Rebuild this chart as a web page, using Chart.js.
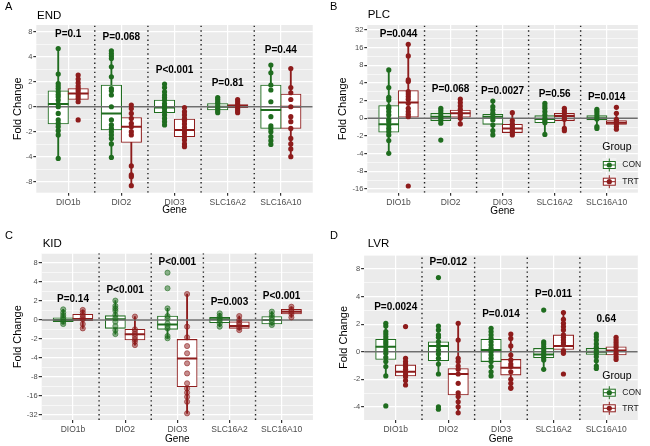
<!DOCTYPE html>
<html>
<head>
<meta charset="utf-8">
<script src="https://cdn.jsdelivr.net/npm/chart.js@4.4.0/dist/chart.umd.min.js"></script>
<style>
  html, body { margin: 0; padding: 0; background: #fff; }
  #wrap { position: relative; width: 650px; height: 446px; }
  canvas { position: absolute; }
</style>
</head>
<body>
<div id="wrap">
  <canvas id="pA" width="325" height="220" style="left:0;top:0"></canvas>
  <canvas id="pB" width="325" height="220" style="left:325px;top:0"></canvas>
  <canvas id="pC" width="325" height="226" style="left:0;top:220px"></canvas>
  <canvas id="pD" width="325" height="226" style="left:325px;top:220px"></canvas>
</div>
<script>
// values are in axis units (log2 of fold change), tick labels show the fold change
const genes = ['DIO1b', 'DIO2', 'DIO3', 'SLC16A2', 'SLC16A10'];
const groupNames = ['CON', 'TRT'];
const foldTicks = [-5, -4, -3, -2, -1, 0, 1, 2, 3, 4, 5];
const foldLabels = ['-32', '-16', '-8', '-4', '-2', '0', '2', '4', '8', '16', '32'];

// END
const endCon = [
  [2.33, 1.31, 0.93, 0.83, 0.73, 0.6, 0.49, 0.4, 0.27, 0.11, 0, -0.27, -0.53, -0.67, -0.8, -0.96, -1.13, -2.07],
  [2.24, 2.13, 2.03, 1.93, 1.6, 1.2, 0.73, 0.64, 0.47, 0, -0.53, -0.73, -0.87, -1.0, -1.13, -1.27, -1.49, -2.03],
  [0.91, 0.77, 0.6, 0.47, 0.37, 0.27, 0.13, 0.03, -0.07, -0.2, -0.33, -0.47, -0.6, -0.73],
  [0.37, 0.29, 0.2, 0.13, 0.03, -0.07, -0.16, -0.24],
  [1.67, 1.36, 0.87, 0.67, 0.2, -0.4, -0.77, -0.87, -1.0, -1.2, -1.36, -1.51]
];
const endTrt = [
  [1.27, 1.11, 0.96, 0.83, 0.73, 0.64, 0.53, 0.43, 0.33, 0.2, -0.53],
  [0.07, -0.07, -0.27, -0.47, -0.67, -0.8, -1.0, -1.13, -2.37, -2.73, -2.8, -3.16],
  [-0.03, -0.2, -0.33, -0.47, -0.56, -0.69, -0.83, -0.96, -1.07, -1.2, -1.33, -1.49, -1.6],
  [0.29, 0.2, 0.11, 0.03, -0.07, -0.16, -0.24],
  [1.53, 0.77, 0.56, 0.29, 0, -0.4, -0.6, -0.87, -1.27, -1.49, -1.69, -2.0]
];
// [lower whisker, q1, median, q3, upper whisker]
const endConBox = [[-2.07, -0.69, 0.11, 0.64, 2.33], [-2.03, -0.93, -0.27, 0.87, 2.24], [-0.73, -0.24, -0.03, 0.27, 0.91], [-0.24, -0.13, 0, 0.13, 0.37], [-1.51, -0.87, -0.13, 0.87, 1.67]];
const endTrtBox = [[0.2, 0.29, 0.53, 0.73, 1.27], [-3.16, -1.43, -0.8, -0.43, 0.07], [-1.6, -1.2, -0.93, -0.49, -0.03], [-0.24, -0.04, 0.03, 0.09, 0.29], [-2.0, -0.87, 0, 0.51, 1.53]];
const endP = ['P=0.1', 'P=0.068', 'P<0.001', 'P=0.81', 'P=0.44'];
const endPY = [2.89, 2.77, 1.47, 0.93, 2.24];

// PLC
const plcCon = [
  [2.74, 1.74, 1.19, 1.04, 0.66, 0.57, 0.38, 0.19, -0.06, -0.19, -0.38, -0.57, -0.75, -0.94, -1.26, -1.98],
  [0.57, 0.43, 0.28, 0.13, 0, -0.13, -0.28, -1.23],
  [0.98, 0.66, 0.47, 0.28, 0.09, -0.09, -0.38, -0.7, -0.94],
  [0.85, 0.7, 0.57, 0.38, 0.19, 0, -0.13, -0.25, -0.91],
  [0.51, 0.38, 0.25, 0.09, -0.04, -0.47, -0.57]
];
const plcTrt = [
  [4.19, 3.53, 2.17, 2.08, 1.51, 1.38, 1.23, 1.08, 0.85, 0.57, 0.38, 0.23, 0.09, -3.83],
  [1.08, 0.89, 0.7, 0.51, 0.32, 0.19, 0, -0.32],
  [0.32, -0.13, -0.32, -0.43, -0.57, -0.7, -0.81, -0.94],
  [0.57, 0.42, 0.28, 0.09, -0.06, -0.57, -0.7],
  [0.62, 0.28, -0.06, -0.19, -0.32, -0.47, -0.62]
];
const plcConBox = [[-1.98, -0.79, -0.34, 0.72, 2.74], [-0.28, -0.13, 0.09, 0.28, 0.57], [-0.94, -0.34, 0.09, 0.23, 0.98], [-0.91, -0.25, -0.04, 0.15, 0.85], [-0.57, -0.09, 0, 0.15, 0.51]];
const plcTrtBox = [[0.06, 0.06, 0.89, 1.57, 4.19], [-0.32, 0.06, 0.28, 0.47, 1.08], [-0.94, -0.81, -0.57, -0.34, 0.32], [-0.7, -0.13, 0.13, 0.28, 0.57], [-0.62, -0.34, -0.25, -0.13, 0.28]];
const plcP = ['P=0.044', 'P=0.068', 'P=0.0027', 'P=0.56', 'P=0.014'];
const plcPY = [4.77, 1.64, 1.51, 1.38, 1.17];

// KID
const kidCon = [
  [0.56, 0.39, 0.26, 0.14, 0.04, -0.09, -0.21],
  [1.02, 0.74, 0.61, 0.49, 0.26, 0.09, -0.09, -0.32, -0.53, -0.74],
  [2.49, 1.67, 0.61, 0.21, 0.09, -0.18, -0.32, -0.44, -0.84, -0.96],
  [0.35, 0.21, 0.09, -0.04, -0.18, -0.35],
  [0.44, 0.26, 0.14, 0, -0.14, -0.26]
];
const kidTrt = [
  [0.53, 0.39, 0.26, 0.14, 0.04, -0.21, -0.44],
  [0.18, -0.49, -0.61, -0.74, -0.88, -1.02, -1.14, -1.32],
  [1.37, -0.35, -0.91, -1.37, -1.75, -2.28, -2.81, -3.33, -3.6, -3.82, -4.04, -4.3, -4.91],
  [0.21, 0, -0.14, -0.26, -0.39, -0.53],
  [0.7, 0.56, 0.44, 0.32, 0.14]
];
const kidConBox = [[-0.21, -0.09, 0, 0.12, 0.56], [-0.74, -0.44, 0.04, 0.23, 1.02], [-0.96, -0.49, -0.23, 0.21, 0.61], [-0.35, -0.14, 0.04, 0.14, 0.35], [-0.26, -0.21, 0, 0.18, 0.44]];
const kidTrtBox = [[-0.44, -0.04, 0.05, 0.3, 0.53], [-1.32, -1.05, -0.75, -0.49, 0.18], [-4.91, -3.51, -2.02, -1.02, 1.37], [-0.53, -0.44, -0.32, -0.09, 0.21], [0.14, 0.32, 0.44, 0.56, 0.7]];
const kidP = ['P=0.14', 'P<0.001', 'P<0.001', 'P=0.003', 'P<0.001'];
const kidPY = [1.09, 1.58, 3.02, 0.91, 1.23];

// LVR
const lvrCon = [
  [1.03, 0.93, 0.73, 0.64, 0.54, 0.45, 0.36, 0.28, 0.18, 0.06, -0.06, -0.21, -0.36, -0.54, -0.88, -1.97],
  [2.69, 0.93, 0.79, 0.61, 0.52, 0.36, 0.21, 0.06, -0.08, -0.24, -0.45, -0.81, -2.0, -2.09],
  [0.85, 0.73, 0.61, 0.48, 0.36, 0.24, 0.12, 0, -0.12, -0.24, -0.36, -0.54, -0.73, -0.88],
  [1.51, 0.36, 0.28, 0.18, 0.06, -0.04, -0.12, -0.21, -0.3, -0.64],
  [0.64, 0.54, 0.42, 0.28, 0.16, 0.04, -0.06, -0.18, -0.33, -0.52, -0.61]
];
const lvrTrt = [
  [0.91, -0.24, -0.36, -0.45, -0.54, -0.64, -0.73, -0.81, -0.91, -1.05, -1.21],
  [1.03, 0.42, -0.24, -0.36, -0.52, -0.64, -0.81, -1.15, -1.49, -1.63, -1.82, -2.0, -2.22],
  [0.64, 0.48, 0.21, -0.12, -0.3, -0.45, -0.54, -0.73, -1.0, -1.15, -1.3, -1.33],
  [1.42, 1.17, 1.03, 0.91, 0.79, 0.61, 0.52, 0.42, 0.33, 0.24, 0.04, -0.06, -0.81],
  [0.52, 0.42, 0.33, 0.24, 0.16, 0.04, -0.06, -0.18, -0.28]
];
const lvrConBox = [[-0.88, -0.28, 0.18, 0.45, 1.03], [-0.81, -0.33, 0.21, 0.36, 0.93], [-0.88, -0.36, 0.06, 0.45, 0.85], [-0.64, -0.22, -0.1, 0.12, 0.36], [-0.61, -0.1, 0, 0.12, 0.64]];
const lvrTrtBox = [[-1.21, -0.88, -0.73, -0.48, -0.24], [-2.22, -1.57, -0.81, -0.61, 1.03], [-1.33, -0.85, -0.58, -0.28, 0.64], [-0.06, 0.08, 0.21, 0.61, 1.42], [-0.28, -0.12, 0.04, 0.18, 0.52]];
const lvrP = ['P=0.0024', 'P=0.012', 'P=0.014', 'P=0.011', '0.64'];
const lvrPY = [1.6, 3.24, 1.36, 2.09, 1.19];

const GREEN = '#1f6d1f';
const RED = '#8e1c1c';
const FONT = '"Liberation Sans", Arial, sans-serif';

const panels = [
  { id: 'pA', letter: 'A', title: 'END', con: endCon, trt: endTrt, conBox: endConBox, trtBox: endTrtBox,
    p: endP, pY: endPY, yMin: -3.44, yMax: 3.27, area: { l: 36.3, r: 321.2, t: 25, b: 192.7 },
    letterY: 7, titleX: 37, titleY: 16, yTitleX: 18, xTitleY: 210.7, legend: null, alpha: false },
  { id: 'pB', letter: 'B', title: 'PLC', con: plcCon, trt: plcTrt, conBox: plcConBox, trtBox: plcTrtBox,
    p: plcP, pY: plcPY, yMin: -4.21, yMax: 5.28, area: { l: 42.3, r: 323.2, t: 25, b: 192.7 },
    letterY: 7, titleX: 42.7, titleY: 15, yTitleX: 18.3, xTitleY: 211, legend: { x: 277.3, y: 147.3, rows: [165, 181.7] }, alpha: false },
  { id: 'pC', letter: 'C', title: 'KID', con: kidCon, trt: kidTrt, conBox: kidConBox, trtBox: kidTrtBox,
    p: kidP, pY: kidPY, yMin: -5.26, yMax: 3.51, area: { l: 41.7, r: 321.6, t: 33.3, b: 200 },
    letterY: 16, titleX: 42.7, titleY: 23.5, yTitleX: 18.3, xTitleY: 219.3, legend: null, alpha: true },
  { id: 'pD', letter: 'D', title: 'LVR', con: lvrCon, trt: lvrTrt, conBox: lvrConBox, trtBox: lvrTrtBox,
    p: lvrP, pY: lvrPY, yMin: -2.48, yMax: 3.51, area: { l: 39.1, r: 322.4, t: 35, b: 200 },
    letterY: 16, titleX: 42.7, titleY: 23.5, yTitleX: 19.3, xTitleY: 219.3, legend: { x: 277.3, y: 156, rows: [172.7, 188.3] }, alpha: false }
];

function rgba(hex, a) {
  const n = parseInt(hex.slice(1), 16);
  return `rgba(${n >> 16},${(n >> 8) & 255},${n & 255},${a})`;
}

function makeDecor(p) {
  return {
    id: 'decor' + p.letter,
    beforeDraw(chart) {
      const { ctx, chartArea: a } = chart;
      ctx.save();
      ctx.fillStyle = '#ebebeb';
      ctx.fillRect(a.left, a.top, a.right - a.left, a.bottom - a.top);
      ctx.restore();
    },
    afterDatasetsDraw(chart) {
      const { ctx, scales } = chart;
      ctx.save();
      ctx.font = 'bold 10px ' + FONT;
      ctx.fillStyle = '#000';
      ctx.textAlign = 'center';
      ctx.textBaseline = 'middle';
      p.p.forEach((t, i) => {
        ctx.fillText(t, scales.x.getPixelForValue(i + 1), scales.y.getPixelForValue(p.pY[i]));
      });
      ctx.restore();
    },
    afterDraw(chart) {
      const ctx = chart.ctx;
      ctx.save();
      ctx.fillStyle = '#000';
      ctx.textBaseline = 'middle';
      ctx.textAlign = 'left';
      ctx.font = '11px ' + FONT;
      ctx.fillText(p.letter, 5, p.letterY);
      ctx.font = '11.5px ' + FONT;
      ctx.fillText(p.title, p.titleX, p.titleY);
      if (p.legend) {
        const L = p.legend;
        ctx.font = '10.5px ' + FONT;
        ctx.fillStyle = '#000';
        ctx.fillText('Group', L.x, L.y);
        [GREEN, RED].forEach((c, g) => {
          const cy = L.rows[g], cx = L.x + 7;
          ctx.fillStyle = '#f2f2f2';
          ctx.fillRect(cx - 7, cy - 7, 14, 14);
          ctx.strokeStyle = c;
          ctx.lineWidth = 1;
          ctx.beginPath();
          ctx.moveTo(cx, cy - 6.5); ctx.lineTo(cx, cy + 6.5);
          ctx.stroke();
          ctx.fillStyle = '#fff';
          ctx.fillRect(cx - 6, cy - 3.5, 12, 7);
          ctx.strokeRect(cx - 6, cy - 3.5, 12, 7);
          ctx.beginPath();
          ctx.moveTo(cx - 6, cy); ctx.lineTo(cx + 6, cy);
          ctx.stroke();
          ctx.fillStyle = c;
          ctx.beginPath();
          ctx.arc(cx, cy, 2.6, 0, Math.PI * 2);
          ctx.fill();
          ctx.fillStyle = '#1a1a1a';
          ctx.font = '8.5px ' + FONT;
          ctx.fillText(groupNames[g], L.x + 20, cy);
        });
      }
      ctx.restore();
    }
  };
}

function makeChart(p) {
  const canvas = document.getElementById(p.id);
  const W = canvas.width, H = canvas.height;
  const unitPx = (p.area.r - p.area.l) / 5.2;
  const boxW = 0.375 * unitPx;
  const off = [-0.1875, 0.1875];
  const colors = [GREEN, RED];
  const datasets = [];

  [1.5, 2.5, 3.5, 4.5].forEach(x => {
    datasets.push({
      type: 'scatter', showLine: true, data: [{ x, y: p.yMin }, { x, y: p.yMax }],
      borderColor: '#222', borderWidth: 1.4, borderDash: [1.4, 3.2], pointRadius: 0, order: 6
    });
  });

  [p.con, p.trt].forEach((pts, g) => {
    const boxes = g ? p.trtBox : p.conBox;
    const xs = genes.map((_, i) => i + 1 + off[g]);
    const c = colors[g];
    datasets.push({
      type: 'bar', grouped: false, barThickness: 1.2, order: 5,
      data: boxes.map((b, i) => ({ x: xs[i], y: [b[0], b[4]] })),
      backgroundColor: c
    });
    datasets.push({
      type: 'bar', grouped: false, barThickness: boxW, order: 4,
      data: boxes.map((b, i) => ({ x: xs[i], y: [b[1], b[3]] })),
      backgroundColor: '#fff', borderColor: c, borderWidth: 1.1, borderSkipped: false
    });
    datasets.push({
      type: 'scatter', order: 3,
      data: boxes.map((b, i) => ({ x: xs[i], y: b[2] })),
      pointStyle: 'line', pointRadius: boxW / 2, pointBorderWidth: 2, pointBorderColor: c
    });
    datasets.push({
      type: 'scatter', order: 1,
      data: pts.flatMap((arr, i) => arr.map(v => ({ x: xs[i], y: v }))),
      pointRadius: 2.6,
      pointBackgroundColor: p.alpha ? rgba(c, 0.5) : c,
      pointBorderColor: p.alpha ? rgba(c, 0.7) : c,
      pointBorderWidth: p.alpha ? 0.8 : 0
    });
  });

  datasets.push({
    type: 'scatter', showLine: true, data: [{ x: 0.4, y: 0 }, { x: 5.6, y: 0 }],
    borderColor: '#6e6e6e', borderWidth: 1.6, pointRadius: 0, order: 2
  });

  const yLabel = v => {
    const k = foldTicks.indexOf(v);
    return k >= 0 ? foldLabels[k] : '';
  };

  return new Chart(canvas, {
    type: 'scatter',
    data: { datasets },
    plugins: [makeDecor(p)],
    options: {
      responsive: false,
      animation: false,
      events: [],
      layout: { padding: { left: 0, top: p.area.t, right: W - p.area.r, bottom: 0 } },
      plugins: { legend: { display: false }, tooltip: { enabled: false } },
      scales: {
        x: {
          type: 'linear', min: 0.4, max: 5.6, offset: false,
          afterBuildTicks: s => { s.ticks = genes.map((_, i) => ({ value: i + 1 })); },
          afterFit: s => { s.height = H - p.area.b; },
          ticks: {
            autoSkip: false, maxRotation: 0, padding: 2,
            color: '#4d4d4d', font: { family: FONT, size: 8.5 },
            callback: v => genes[v - 1]
          },
          grid: { offset: false, color: '#ffffff', lineWidth: 1.2, tickColor: '#333', tickLength: 3 },
          border: { display: false },
          title: {
            display: true, text: 'Gene', color: '#000',
            font: { family: FONT, size: 10, lineHeight: 1.2 },
            padding: { top: 0, bottom: (H - p.xTitleY) - 6 }
          }
        },
        y: {
          type: 'linear', min: p.yMin, max: p.yMax,
          afterBuildTicks: s => {
            const t = [];
            for (let v = Math.ceil(p.yMin * 2) / 2; v <= p.yMax; v += 0.5) t.push({ value: v });
            s.ticks = t;
          },
          afterFit: s => { s.width = p.area.l; },
          ticks: {
            autoSkip: false, padding: 1,
            color: '#4d4d4d', font: { family: FONT, size: 7.5 },
            callback: v => yLabel(v)
          },
          grid: {
            color: '#ffffff',
            lineWidth: c => Number.isInteger(c.tick.value) ? 1.2 : 0.6,
            tickColor: c => Number.isInteger(c.tick.value) ? '#333' : 'rgba(0,0,0,0)',
            tickLength: 3
          },
          border: { display: false },
          title: {
            display: true, text: 'Fold Change', color: '#000',
            font: { family: FONT, size: 11, lineHeight: 1.2 },
            padding: { top: p.yTitleX - 6.6, bottom: 0 }
          }
        }
      }
    }
  });
}

panels.forEach(makeChart);
</script>
</body>
</html>
